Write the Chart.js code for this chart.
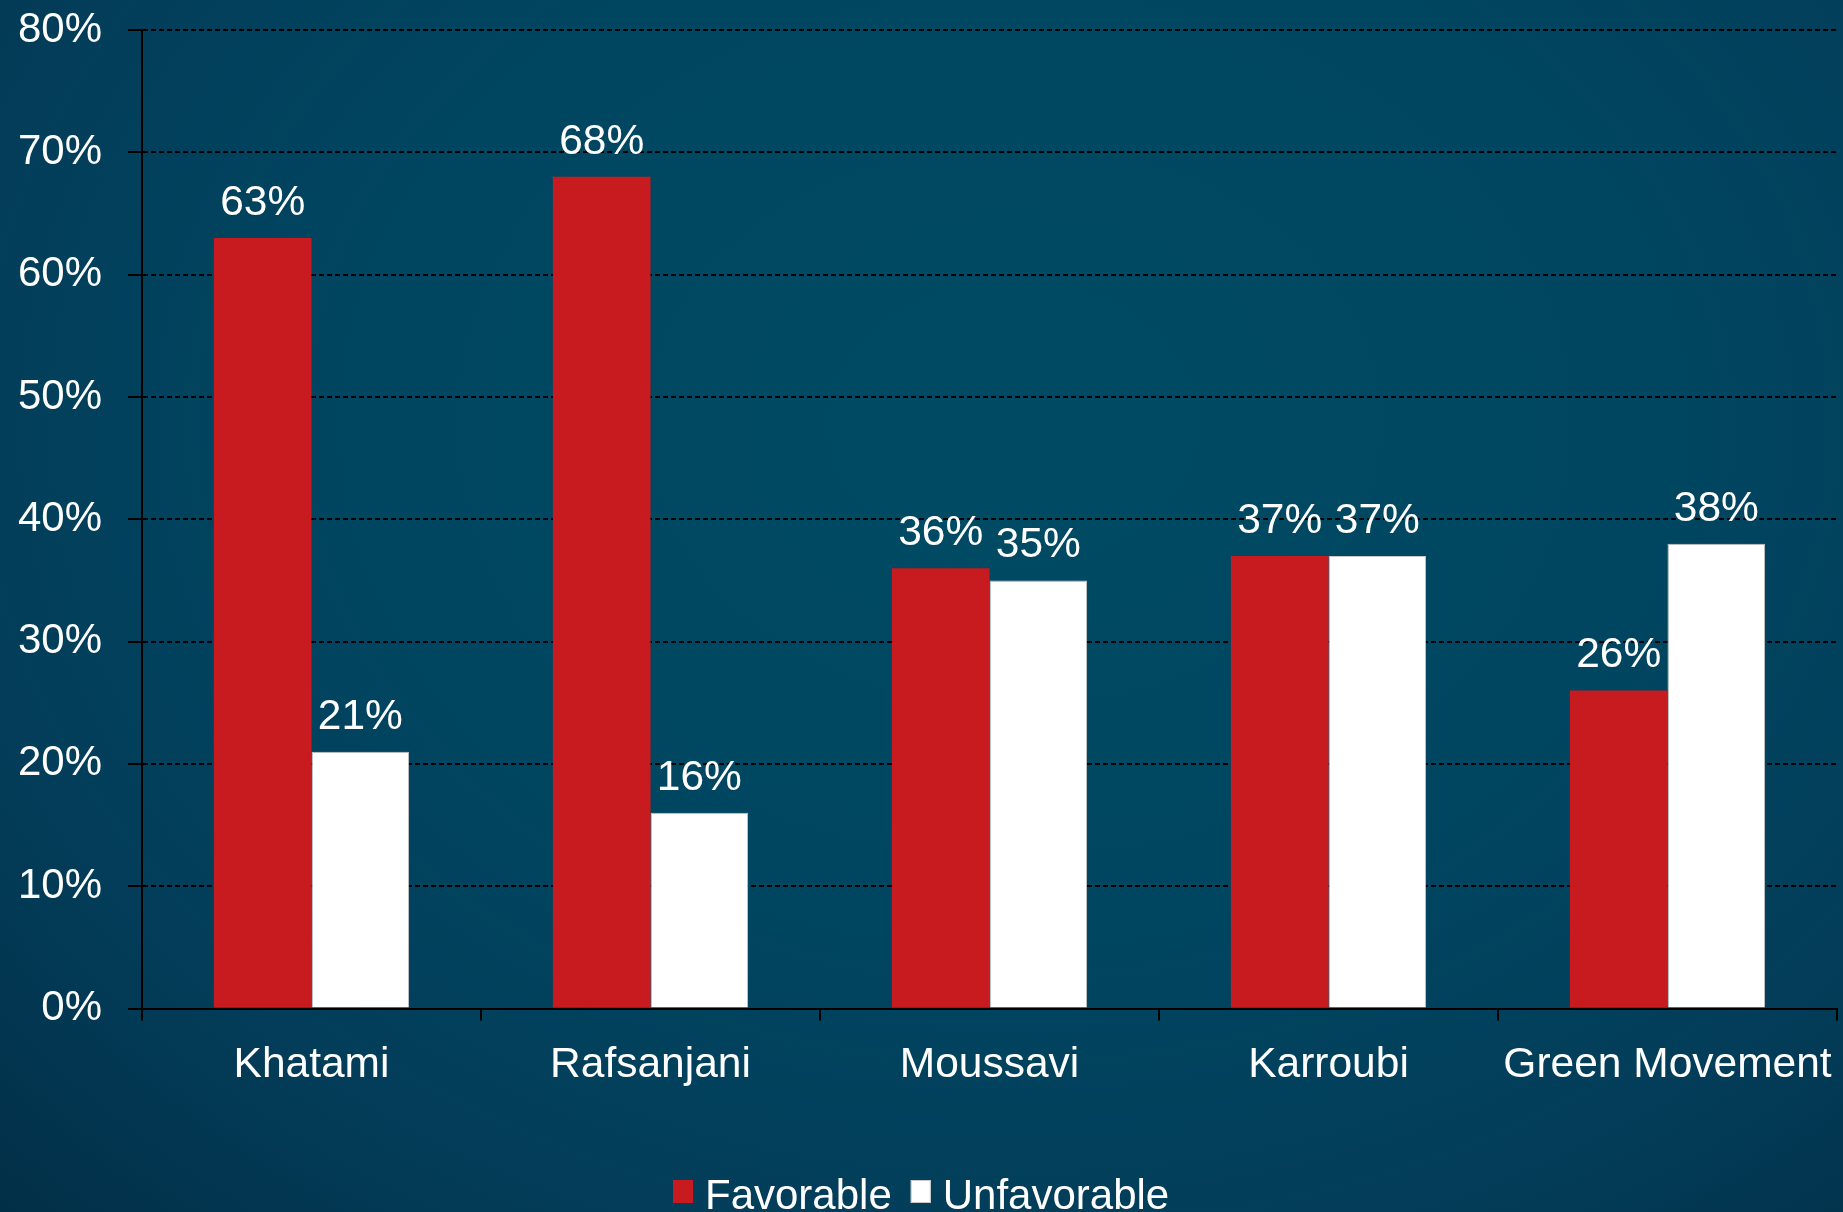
<!DOCTYPE html>
<html>
<head>
<meta charset="utf-8">
<script src="https://cdn.jsdelivr.net/npm/chart.js@4.4.1/dist/chart.umd.min.js"></script>
<style>
  html, body { margin: 0; padding: 0; }
  body {
    width: 1843px; height: 1212px; overflow: hidden;
    background: radial-gradient(ellipse at 55% 35%, #004b64 0%, #004661 45%, #033d59 75%, #022f48 100%);
  }
  #wrap { position: absolute; left: 0; top: 0; width: 1843px; height: 1212px; }
</style>
</head>
<body>
<div id="wrap"><canvas id="chart" width="1843" height="1212"></canvas></div>
<script>
// data
const categories = ['Khatami', 'Rafsanjani', 'Moussavi', 'Karroubi', 'Green Movement'];
const favorable = [63, 68, 36, 37, 26];
const unfavorable = [21, 16, 35, 37, 38];
const seriesNames = ['Favorable', 'Unfavorable'];
const yTicks = [0, 10, 20, 30, 40, 50, 60, 70, 80];

const FONT = "'Liberation Sans', Arial, sans-serif";
const RED = '#c71b1f';

// value labels above the bars
const valueLabels = {
  id: 'valueLabels',
  afterDatasetsDraw(chart) {
    const ctx = chart.ctx;
    ctx.save();
    ctx.font = '42.5px ' + FONT;
    ctx.fillStyle = '#ffffff';
    ctx.textAlign = 'center';
    ctx.textBaseline = 'alphabetic';
    chart.data.datasets.forEach((ds, i) => {
      chart.getDatasetMeta(i).data.forEach((bar, j) => {
        ctx.fillText(ds.data[j] + '%', bar.x, bar.y - 23);
      });
    });
    ctx.restore();
  }
};

// legend at the bottom edge, partly cut off like the slide
const bottomLegend = {
  id: 'bottomLegend',
  afterDraw(chart) {
    const ctx = chart.ctx;
    ctx.save();
    ctx.font = '42px ' + FONT;
    ctx.textBaseline = 'alphabetic';
    let x = 673;
    chart.data.datasets.forEach((ds) => {
      ctx.fillStyle = ds.backgroundColor;
      ctx.fillRect(x, 1180, 20, 23);
      if (ds.borderWidth) {
        ctx.strokeStyle = '#c8c8c8';
        ctx.lineWidth = 1;
        ctx.strokeRect(x + 0.5, 1180.5, 19, 22);
      }
      x += 32;
      ctx.fillStyle = '#ffffff';
      ctx.fillText(ds.label, x, 1209);
      x += ctx.measureText(ds.label).width + 19;
    });
    ctx.restore();
  }
};

const ctx = document.getElementById('chart').getContext('2d');
new Chart(ctx, {
  type: 'bar',
  data: {
    labels: categories,
    datasets: [
      { label: seriesNames[0], data: favorable, backgroundColor: RED, borderWidth: 0 },
      { label: seriesNames[1], data: unfavorable, backgroundColor: '#ffffff', borderColor: '#c8c8c8', borderWidth: 1 }
    ]
  },
  options: {
    responsive: false,
    animation: false,
    layout: { padding: { top: 30, right: 6, left: 0, bottom: 0 } },
    categoryPercentage: 0.576,
    barPercentage: 1,
    plugins: {
      legend: { display: false },
      tooltip: { enabled: false }
    },
    scales: {
      x: {
        afterFit(scale) {
          scale.height = 203.5;
          scale.paddingLeft = 0;
          scale.paddingRight = 0;
        },
        grid: {
          offset: true,
          drawOnChartArea: false,
          color: '#000000',
          lineWidth: 2,
          tickLength: 12
        },
        border: { color: '#000000', width: 2 },
        ticks: {
          color: '#ffffff',
          font: { family: FONT, size: 42.5 },
          padding: 19,
          maxRotation: 0
        }
      },
      y: {
        min: 0,
        max: 80,
        afterFit(scale) {
          scale.width = 142;
          scale.paddingTop = 0;
          scale.paddingBottom = 0;
        },
        afterBuildTicks(scale) { scale.ticks = yTicks.map(v => ({ value: v })); },
        grid: {
          color: '#000000',
          lineWidth: 2,
          tickLength: 14,
          tickBorderDash: []
        },
        border: { color: '#000000', width: 2, dash: [5, 3] },
        ticks: {
          color: '#ffffff',
          font: { family: FONT, size: 42 },
          padding: 26,
          callback: v => v + '%'
        }
      }
    }
  },
  plugins: [valueLabels, bottomLegend]
});
</script>
</body>
</html>
